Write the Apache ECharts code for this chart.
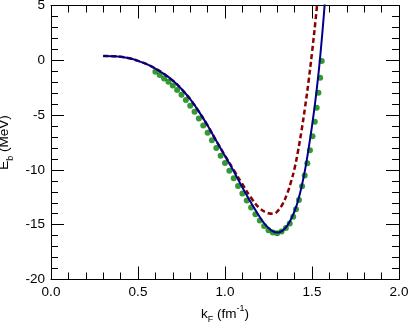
<!DOCTYPE html>
<html><head><meta charset="utf-8">
<script src="https://cdn.jsdelivr.net/npm/echarts@6/dist/echarts.min.js"></script>
<style>html,body{margin:0;padding:0;background:#fff}#c{width:409px;height:325px}</style>
</head><body><div id="c"></div>
<script>
var xTicks = ['0.0','0.5','1.0','1.5','2.0'];
var yTicks = ['5','0','-5','-10','-15','-20'];

var blueK = [0.30,0.35,0.40,0.45,0.50,0.55,0.60,0.65,0.70,0.75,0.80,0.85,0.90,0.95,1.00,1.05,1.10,1.15,1.20,1.25,1.30,1.35,1.40,1.43,1.46,1.48,1.50,1.52,1.54,1.56,1.58];
var blueE = [0.40,0.38,0.32,0.18,-0.05,-0.35,-0.75,-1.25,-1.85,-2.62,-3.55,-4.68,-5.95,-7.35,-8.73,-10.12,-11.6,-13.0,-14.3,-15.3,-15.72,-15.25,-13.75,-12.2,-10.0,-8.1,-6.0,-3.6,-0.8,2.6,6.5];

var redK = [0.30,0.35,0.40,0.45,0.50,0.55,0.60,0.65,0.70,0.75,0.80,0.85,0.90,0.95,1.00,1.05,1.10,1.15,1.20,1.25,1.28,1.30,1.33,1.36,1.38,1.40,1.42,1.44,1.46,1.48,1.50,1.52,1.535];
var redE = [0.40,0.38,0.32,0.18,-0.05,-0.35,-0.75,-1.25,-1.85,-2.62,-3.55,-4.68,-5.95,-7.35,-8.70,-10.0,-11.3,-12.55,-13.5,-13.95,-14.0,-13.8,-13.15,-12.05,-11.05,-9.85,-8.25,-6.4,-4.3,-1.95,0.7,3.6,6.0];

var dotK = [0.600,0.625,0.650,0.675,0.700,0.725,0.750,0.775,0.800,0.825,0.850,0.875,0.900,0.925,0.950,0.975,1.000,1.025,1.050,1.075,1.100,1.125,1.150,1.175,1.200,1.225,1.250,1.275,1.300,1.325,1.350,1.372,1.392,1.408,1.425,1.443,1.458,1.473,1.488,1.503,1.516,1.527,1.537,1.547,1.556];
var dotE = [-1.05,-1.35,-1.65,-1.95,-2.30,-2.70,-3.15,-3.62,-4.15,-4.70,-5.30,-5.95,-6.60,-7.30,-8.00,-8.70,-9.38,-10.07,-10.77,-11.47,-12.15,-12.80,-13.43,-14.05,-14.62,-15.12,-15.50,-15.72,-15.78,-15.62,-15.30,-14.90,-14.27,-13.59,-12.75,-11.50,-10.50,-9.40,-8.20,-6.93,-5.60,-4.33,-2.96,-1.59,-0.06];

function zip(a,b){return a.map(function(v,i){return [v,b[i]];});}

var FONT = 'Liberation Sans, Arial, sans-serif';
var FS = 13.5;
var tickStyle = {show:true, inside:true, length:13, lineStyle:{color:'#000',width:1}};
var minorStyle = {show:true, splitNumber:5, length:7, lineStyle:{color:'#000',width:1}};
var lineSt = {show:true, onZero:false, lineStyle:{color:'#000',width:1}};

var chart = echarts.init(document.getElementById('c'), null, {renderer:'canvas'});
chart.setOption({
  animation:false,
  backgroundColor:'#fff',
  grid:{left:51, right:10, top:5.5, bottom:45.5, containLabel:false, outerBoundsMode:'none'},
  xAxis:[{
    type:'value', min:0, max:2, interval:0.5, position:'bottom',
    axisLine:lineSt, axisTick:tickStyle, minorTick:minorStyle, splitLine:{show:false},
    axisLabel:{margin:6, color:'#000', fontSize:FS, fontFamily:FONT,
      formatter:function(v){var i=Math.round(v/0.5);return xTicks[i];}},
    name:'{k|k}{s|F}{k| (fm}{p|-1}{k|)}', nameLocation:'middle', nameGap:24,
    nameTextStyle:{color:'#000', fontFamily:FONT, rich:{
      k:{fontSize:FS, fontFamily:FONT, color:'#000', lineHeight:20},
      s:{fontSize:9, fontFamily:FONT, color:'#000', lineHeight:10, verticalAlign:'bottom'},
      p:{fontSize:9, fontFamily:FONT, color:'#000', lineHeight:10, verticalAlign:'top'}}}
  },{
    type:'value', min:0, max:2, interval:0.5, position:'top',
    axisLine:lineSt, axisTick:tickStyle, minorTick:minorStyle, splitLine:{show:false},
    axisLabel:{show:false}
  }],
  yAxis:[{
    type:'value', min:-20, max:5, interval:5, position:'left',
    axisLine:lineSt, axisTick:tickStyle, minorTick:minorStyle, splitLine:{show:false},
    axisLabel:{margin:6, color:'#000', fontSize:FS, fontFamily:FONT,
      formatter:function(v){var i=Math.round((5-v)/5);return yTicks[i];}},
    name:'{k|E}{s|b}{k| (MeV)}', nameLocation:'middle', nameGap:25, nameRotate:90,
    nameTextStyle:{color:'#000', fontFamily:FONT, rich:{
      k:{fontSize:FS, fontFamily:FONT, color:'#000', lineHeight:20},
      s:{fontSize:9, fontFamily:FONT, color:'#000', lineHeight:10, verticalAlign:'bottom'}}}
  },{
    type:'value', min:-20, max:5, interval:5, position:'right',
    axisLine:lineSt, axisTick:tickStyle, minorTick:minorStyle, splitLine:{show:false},
    axisLabel:{show:false}
  }],
  series:[
    {type:'scatter', data:zip(dotK,dotE), symbol:'circle', symbolSize:6,
     itemStyle:{color:'#008000'}, z:2},
    {type:'line', data:zip(redK,redE), smooth:0.4, showSymbol:false, clip:true,
     lineStyle:{color:'#8b0000', width:2.5, type:[5,3]}, z:3},
    {type:'line', data:zip(blueK,blueE), smooth:0.4, showSymbol:false, clip:true,
     lineStyle:{color:'#00008b', width:2}, z:4}
  ]
});
</script></body></html>
